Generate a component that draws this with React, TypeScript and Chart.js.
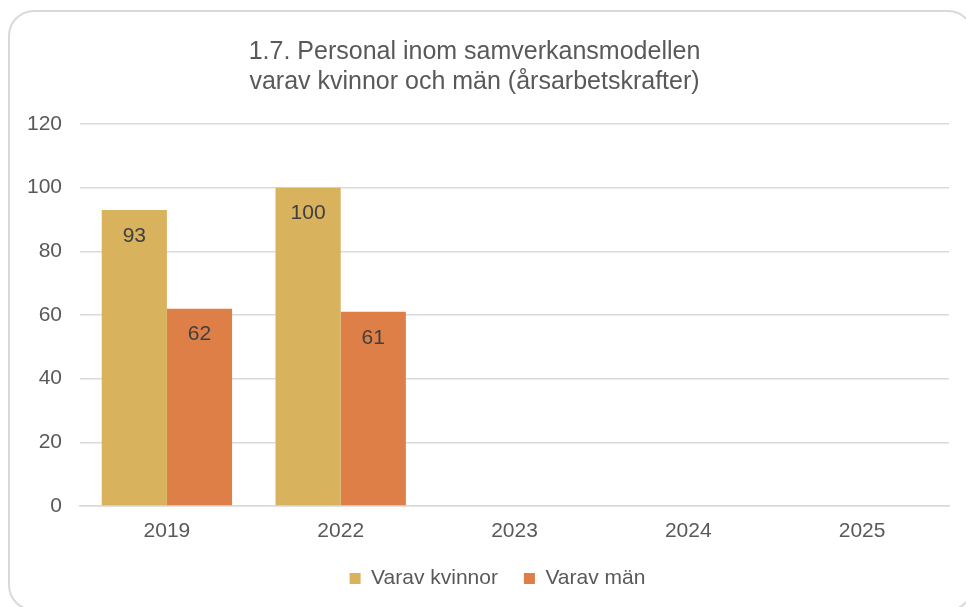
import React, { useEffect, useRef } from "react";
import { Chart, registerables } from "chart.js";

Chart.register(...registerables);

const categories = ["2019", "2022", "2023", "2024", "2025"];
const kvinnor = [93, 100, null, null, null];
const man = [62, 61, null, null, null];
const seriesLabels = ["Varav kvinnor", "Varav män"];
const titleLines = ["1.7. Personal inom samverkansmodellen", "varav kvinnor och män (årsarbetskrafter)"];

const FONT = "'Liberation Sans', Arial, sans-serif";
const TEXT = "#595959";

const barLabels = {
  id: "barLabels",
  afterDatasetsDraw(chart: any) {
    const ctx = chart.ctx;
    ctx.save();
    ctx.font = `21px ${FONT}`;
    ctx.fillStyle = "#404040";
    ctx.textAlign = "center";
    ctx.textBaseline = "middle";
    chart.data.datasets.forEach((ds: any, di: number) => {
      const meta = chart.getDatasetMeta(di);
      meta.data.forEach((el: any, i: number) => {
        const v = ds.data[i];
        if (v === null || v === undefined) return;
        ctx.fillText(String(v), el.x, el.y + 26);
      });
    });
    ctx.restore();
  },
};

const legendShift = {
  id: "legendShift",
  afterLayout(chart: any) {
    const l = chart.legend;
    if (l) {
      l.left += 23;
      l.right += 23;
    }
  },
};

export default function App() {
  const ref = useRef<HTMLCanvasElement | null>(null);
  useEffect(() => {
    document.body.style.margin = "0";
    document.body.style.overflow = "hidden";
    const chart = new Chart(ref.current as HTMLCanvasElement, {
      type: "bar",
      data: {
        labels: categories,
        datasets: [
          { label: seriesLabels[0], data: kvinnor as any, backgroundColor: "#D8B25C", categoryPercentage: 0.75, barPercentage: 1 },
          { label: seriesLabels[1], data: man as any, backgroundColor: "#DD7F47", categoryPercentage: 0.75, barPercentage: 1 },
        ],
      },
      options: {
        animation: false,
        responsive: false,
        maintainAspectRatio: false,
        layout: { padding: { left: 0, right: 17, top: 0, bottom: 8 } },
        plugins: {
          title: {
            display: true,
            text: titleLines,
            color: TEXT,
            font: { family: FONT, size: 25, weight: "normal", lineHeight: 1.2 },
            padding: { top: 37, bottom: 27 },
          },
          legend: {
            position: "bottom",
            labels: {
              color: TEXT,
              font: { family: FONT, size: 21 },
              boxWidth: 11,
              boxHeight: 11,
              padding: 26,
            },
          },
          tooltip: { enabled: false },
        },
        scales: {
          x: {
            grid: { display: false, drawTicks: false },
            border: { display: true, color: "#D9D9D9", width: 1.5 },
            ticks: { color: TEXT, font: { family: FONT, size: 21 }, padding: 13 },
            afterFit(scale: any) { scale.height = 36; },
          },
          y: {
            min: 0,
            max: 120,
            ticks: { stepSize: 20, color: TEXT, font: { family: FONT, size: 21 }, padding: 18 },
            grid: { color: "#D9D9D9", lineWidth: 1.5, drawTicks: false },
            border: { display: false },
            afterFit(scale: any) { scale.width = 80; },
          },
        },
      },
      plugins: [barLabels, legendShift],
    });
    return () => chart.destroy();
  }, []);
  return (
    <div style={{ position: "fixed", left: 0, top: 0, width: 966, height: 607, background: "#fff", overflow: "hidden" }}>
      <div style={{ position: "absolute", left: 8, top: 10, width: 966, height: 601, border: "2px solid #D9D9D9", borderRadius: 26, boxSizing: "border-box" }} />
      <canvas ref={ref} width={966} height={607} style={{ position: "absolute", left: 0, top: 0, width: 966, height: 607 }} />
    </div>
  );
}
